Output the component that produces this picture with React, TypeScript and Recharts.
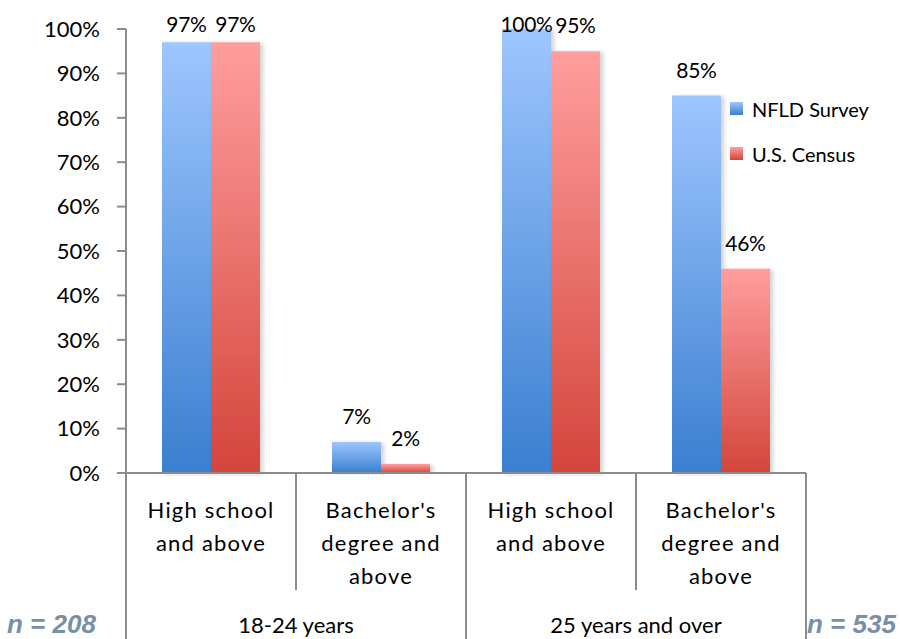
import { BarChart, Bar, XAxis, YAxis, LabelList, Legend } from 'recharts';

// categories (line-broken as on the axis) and their age groups
const categories = [
  ['High school', 'and above'],
  ["Bachelor's", 'degree and', 'above'],
  ['High school', 'and above'],
  ["Bachelor's", 'degree and', 'above'],
];
const groupOf = [0, 0, 1, 1];
const groups = ['18-24 years', '25 years and over'];

const nfldSurvey = [97, 7, 100, 85];
const usCensus = [97, 2, 95, 46];

const yTicks = [0, 10, 20, 30, 40, 50, 60, 70, 80, 90, 100];
const sampleSizes = ['n = 208', 'n = 535'];

const data = categories.map((lines, i) => ({
  label: lines.join(' '),
  lines,
  group: groupOf[i],
  nfld: nfldSurvey[i],
  census: usCensus[i],
}));

const FONT = 'Lato, "Open Sans", sans-serif';
const AXIS = '#8c8c8c';

function CategoryTick(props: any) {
  const { x, y, payload, index } = props;
  const half = payload?.offset ?? 85;
  const row = data[index];
  const isGroupEnd = index === data.length - 1 || data[index + 1].group !== row.group;
  const isGroupStart = index === 0 || data[index - 1].group !== row.group;
  return (
    <g>
      {row.lines.map((t: string, k: number) => (
        <text key={k} x={x} y={y + 45 + k * 33} textAnchor="middle" fontSize={22}
          letterSpacing={1.2} fontFamily={FONT} fill="#000">{t}</text>
      ))}
      {index === 0 && (
        <line x1={x - half} x2={x - half} y1={y} y2={y + 166} stroke={AXIS} strokeWidth={2} />
      )}
      <line x1={x + half} x2={x + half} y1={y} y2={isGroupEnd ? y + 166 : y + 117}
        stroke={AXIS} strokeWidth={2} />
      {isGroupStart && (
        <text x={x + half} y={y + 160} textAnchor="middle" fontSize={22}
          fontFamily={FONT} fill="#000">{groups[row.group]}</text>
      )}
    </g>
  );
}

// value label above the bar, kept inside the top of the plot
function ValueLabel(props: any) {
  const { x, y, width, value } = props;
  const base = Math.max(y - 18, 32);
  return (
    <text x={x + width / 2} y={base} textAnchor="middle" fontSize={21} letterSpacing={-0.3}
      fontFamily={FONT} fill="#000">{`${value}%`}</text>
  );
}

function LegendBox() {
  const items = [
    { name: 'NFLD Survey', grad: 'linear-gradient(#9ec6ff, #3a7fd0)' },
    { name: 'U.S. Census', grad: 'linear-gradient(#ff9e9e, #d4453b)' },
  ];
  return (
    <div style={{ fontFamily: FONT, fontSize: 20 }}>
      {items.map((it) => (
        <div key={it.name} style={{ display: 'flex', alignItems: 'center', height: 45 }}>
          <span style={{ width: 13, height: 13, background: it.grad, marginRight: 9 }} />
          <span style={{ color: '#000' }}>{it.name}</span>
        </div>
      ))}
    </div>
  );
}

const nStyle = {
  position: 'absolute' as const, top: 609, fontFamily: '"Liberation Sans", Arial, sans-serif',
  fontSize: 26, fontWeight: 700, fontStyle: 'italic', color: '#7890a7', lineHeight: '30px',
};

export default function App() {
  return (
    <div style={{ position: 'absolute', left: 0, top: 0, width: 900, height: 639, background: '#fff' }}>
      <BarChart width={900} height={639} data={data} barGap={0} barSize={49}
        margin={{ top: 29, right: 94, bottom: 0, left: 66 }}>
        <defs>
          <linearGradient id="blueFill" x1="0" y1="0" x2="0" y2="1">
            <stop offset="0%" stopColor="#9ec6ff" />
            <stop offset="100%" stopColor="#3a7fd0" />
          </linearGradient>
          <linearGradient id="redFill" x1="0" y1="0" x2="0" y2="1">
            <stop offset="0%" stopColor="#ff9e9e" />
            <stop offset="100%" stopColor="#d4453b" />
          </linearGradient>
          <filter id="barShadow" x="-10%" y="-5%" width="130%" height="110%">
            <feDropShadow dx={3} dy={1} stdDeviation={2} floodColor="#000" floodOpacity={0.18} />
          </filter>
        </defs>
        <XAxis dataKey="label" height={166} tick={<CategoryTick />} tickLine={false}
          tickSize={0} tickMargin={0} interval={0}
          axisLine={{ stroke: AXIS, strokeWidth: 2 }} />
        <YAxis width={60} domain={[0, 100]} ticks={yTicks} interval={0}
          tickFormatter={(v: number) => `${v}%`} tickSize={9} tickMargin={17}
          tick={{ fontSize: 22, fontFamily: FONT, fill: '#000' }}
          tickLine={{ stroke: AXIS, strokeWidth: 2 }}
          axisLine={{ stroke: AXIS, strokeWidth: 2 }} />
        <Legend layout="horizontal" align="center" verticalAlign="middle" content={<LegendBox />}
          wrapperStyle={{ left: 730, top: 86, width: 170, right: 'auto', bottom: 'auto' }} />
        <Bar dataKey="nfld" name="NFLD Survey" fill="url(#blueFill)" filter="url(#barShadow)"
          isAnimationActive={false}>
          <LabelList dataKey="nfld" content={<ValueLabel />} />
        </Bar>
        <Bar dataKey="census" name="U.S. Census" fill="url(#redFill)" filter="url(#barShadow)"
          isAnimationActive={false}>
          <LabelList dataKey="census" content={<ValueLabel />} />
        </Bar>
      </BarChart>
      <div style={{ ...nStyle, left: 7 }}>{sampleSizes[0]}</div>
      <div style={{ ...nStyle, left: 807 }}>{sampleSizes[1]}</div>
    </div>
  );
}
